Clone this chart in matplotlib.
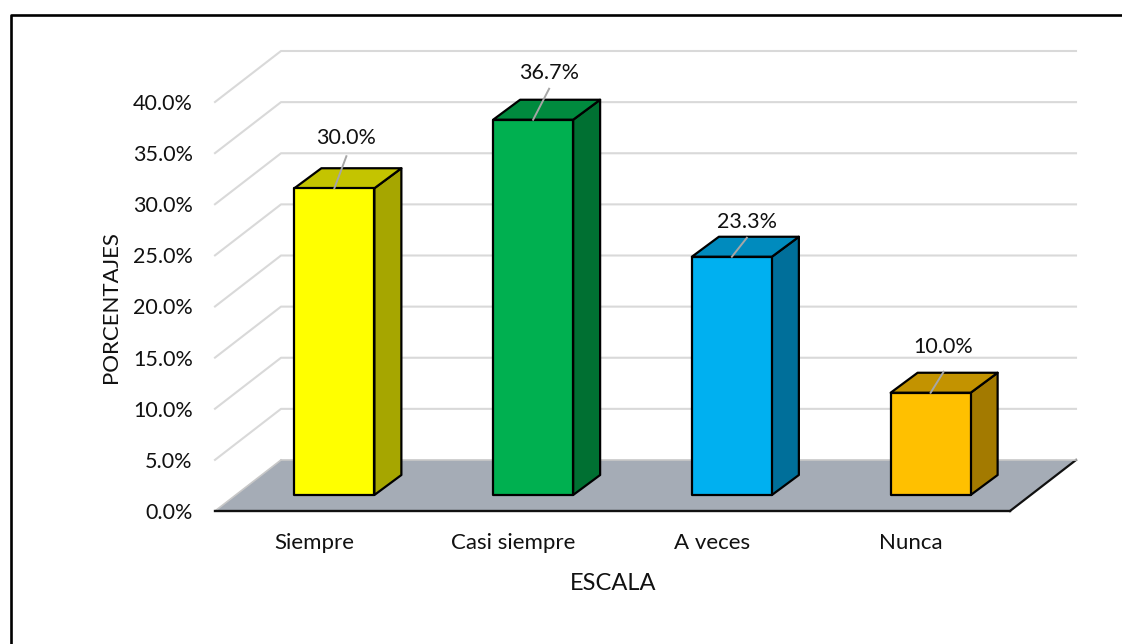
import matplotlib
matplotlib.use("Agg")
import matplotlib.pyplot as plt
from matplotlib.lines import Line2D
from matplotlib.patches import Polygon

plt.rcParams['font.family'] = ['Lato', 'DejaVu Sans']

categories = ["Siempre", "Casi siempre", "A veces", "Nunca"]
values = [30.0, 36.7, 23.3, 10.0]
yticks = [0, 5, 10, 15, 20, 25, 30, 35, 40]
front_colors = ["#FFFF00", "#00B050", "#00B0F0", "#FFC000"]
side_colors = ["#A6A600", "#007032", "#006F9A", "#A37A00"]
top_colors = ["#C4C400", "#008A3E", "#008BBE", "#C39300"]
# label placement, pixels from the top of each bar
label_dx = [12, 16, 15, 13]
label_lift = [50, 47, 35, 46]
leader_lift = [32, 31, 19, 21]

W, H = 1122, 644
fig = plt.figure(figsize=(W / 100, H / 100), dpi=100)
ax = fig.add_axes([215 / W, 1 - 511 / H, 795 / W, 409 / H])
ax.set_xlim(0, 4)
ax.set_ylim(0, 40)

# pixel sizes to data units
ux = 4 / 795.0
uy = 40 / 409.0
depth_x = 66 * ux
depth_y = 51 * uy
bar_w = 80 * ux
bar_dx = 27 * ux
bar_dy = 20 * uy
base_y = 16 * uy
shift_x = 20 * ux


def poly(pts, color, z, edge='black', lw=1.6):
    ax.add_patch(Polygon(pts, closed=True, facecolor=color, edgecolor=edge,
                         linewidth=lw, joinstyle='round', zorder=z, clip_on=False))


# floor
poly([(0, 0), (4, 0), (4 + depth_x, depth_y), (depth_x, depth_y)], "#A5ACB6", 1, edge='none', lw=0)
ax.plot([0, depth_x], [0, depth_y], color="#C8C8C8", lw=1.2, zorder=1.5, clip_on=False)
ax.plot([4, 4 + depth_x], [0, depth_y], color="#111111", lw=1.6, zorder=1.5, clip_on=False)
ax.plot([depth_x, 4 + depth_x], [depth_y, depth_y], color="#C8C8C8", lw=1.2, zorder=1.5, clip_on=False)

# walls
for t in yticks[1:]:
    ax.plot([0, depth_x, 4 + depth_x], [t, t + depth_y, t + depth_y],
            color="#D9D9D9", lw=1.5, zorder=1, clip_on=False)

# bars
for i, v in enumerate(values):
    x0 = i + 0.5 + shift_x - bar_w / 2
    x1 = x0 + bar_w
    y0 = base_y
    y1 = base_y + v
    poly([(x1, y0), (x1 + bar_dx, y0 + bar_dy), (x1 + bar_dx, y1 + bar_dy), (x1, y1)], side_colors[i], 3)
    poly([(x0, y1), (x1, y1), (x1 + bar_dx, y1 + bar_dy), (x0 + bar_dx, y1 + bar_dy)], top_colors[i], 3)
    poly([(x0, y0), (x1, y0), (x1, y1), (x0, y1)], front_colors[i], 4)
    cx = (x0 + x1) / 2
    lx = cx + label_dx[i] * ux
    ax.plot([cx, lx], [y1, y1 + leader_lift[i] * uy], color="#A6A6A6", lw=1.4, zorder=5, clip_on=False)
    ax.text(lx, y1 + label_lift[i] * uy, "%.1f%%" % v, ha='center', va='center',
            fontsize=15.5, color="#111111", zorder=6)

for s in ['top', 'right', 'left']:
    ax.spines[s].set_visible(False)
ax.spines['bottom'].set_linewidth(1.7)
ax.spines['bottom'].set_color("#111111")
ax.spines['bottom'].set_zorder(2)
ax.patch.set_alpha(0)

ax.set_yticks(yticks)
ax.set_yticklabels(["%.1f%%" % t for t in yticks], fontsize=15.5, color="#111111",
                   va='center_baseline')
ax.set_xticks([i + 0.5 for i in range(len(categories))])
ax.set_xticklabels(categories, fontsize=16, color="#111111")
ax.tick_params(axis='both', length=0)
ax.tick_params(axis='y', pad=16)
ax.tick_params(axis='x', pad=16)

fig.text(613 / W, 1 - 584 / H, "ESCALA", ha='center', va='center', fontsize=17, color="#111111")
fig.text(111 / W, 1 - 307 / H, "PORCENTAJES", ha='center', va='center', rotation=90,
         fontsize=16, color="#111111")

# outer frame (left and top only, rest is cut off)
fig.add_artist(Line2D([10.5 / W, 10.5 / W, 1], [0, 1 - 15 / H, 1 - 15 / H], color="black", lw=1.9))

fig.savefig("out.png", dpi=100)
